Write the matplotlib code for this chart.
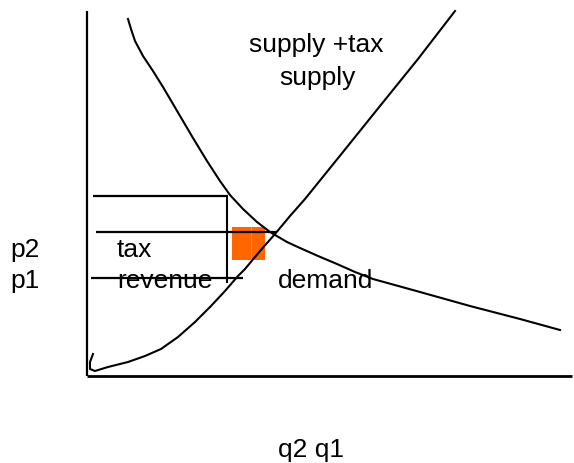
import matplotlib
matplotlib.use("Agg")
import matplotlib.pyplot as plt
from matplotlib.patches import Rectangle

plt.rcParams['font.family'] = ['Liberation Sans', 'DejaVu Sans']

# Data (pixel-like diagram coordinates, y downward)
demand_x = [128, 131, 135, 143, 153, 163, 173, 183, 193, 207, 220, 230, 243, 257, 270, 287, 300,
            318, 337, 355, 373, 420, 470, 520, 560]
demand_y = [20, 30, 42, 57, 72, 88, 105, 122, 139, 162, 182, 196, 210, 223, 233, 243, 249,
            257, 265, 273, 280, 293, 307, 320, 331]

supply_x = [93, 90, 90, 95, 108, 128, 145, 161, 178, 195, 211, 225, 238, 245, 260, 275,
            290, 305, 343, 380, 418, 455]
supply_y = [355, 363, 370, 372, 368, 363, 357, 350, 338, 323, 307, 292, 277, 270, 252, 235,
            217, 200, 153, 107, 60, 12]

# horizontal price lines: (y, x_start, x_end)
hlines_y = [197, 233, 279]
hlines_x0 = [93, 96, 91]
hlines_x1 = [228, 277, 243]

# vertical quantity line
vline_x = 227
vline_y = (197, 283)

# tax-revenue rectangle
rect_x = (232, 265)
rect_y = (228, 261)

labels = ["supply +tax", "supply", "tax", "revenue", "demand", "p2", "p1", "q2 q1"]

fig = plt.figure(figsize=(5.74, 4.64), dpi=100)
ax = fig.add_axes([0, 0, 1, 1])
ax.set_xlim(0, 574)
ax.set_ylim(464, 0)
ax.axis('off')

# axes of the diagram
ax.plot([87, 87], [12, 377], color='black', lw=1.6, solid_capstyle='butt')
ax.plot([87, 572], [377, 377], color='black', lw=2.0, solid_capstyle='butt')

# orange rectangle
ax.add_patch(Rectangle((rect_x[0], rect_y[0]), rect_x[1] - rect_x[0], rect_y[1] - rect_y[0],
                       facecolor='#FF6600', edgecolor='none', zorder=1))
ax.plot([251, 251], [rect_y[0], rect_y[1]], color='#FF9955', lw=0.6, zorder=1.5)

# curves
ax.plot(demand_x, demand_y, color='black', lw=1.5, zorder=3, solid_joinstyle='round')
ax.plot(supply_x, supply_y, color='black', lw=1.5, zorder=3, solid_joinstyle='round')

# price lines
for y, x0, x1 in zip(hlines_y, hlines_x0, hlines_x1):
    ax.plot([x0, x1], [y, y], color='black', lw=1.6, zorder=3, solid_capstyle='butt')
ax.plot([vline_x, vline_x], list(vline_y), color='black', lw=1.5, zorder=3)

fs = 19
ax.text(316, 52, labels[0], fontsize=fs, ha='center', va='baseline')
ax.text(317, 85, labels[1], fontsize=fs, ha='center', va='baseline')
ax.text(117, 257, labels[2], fontsize=fs, ha='left', va='baseline')
ax.text(117, 288, labels[3], fontsize=fs, ha='left', va='baseline', zorder=2)
ax.text(278, 288, labels[4], fontsize=fs, ha='left', va='baseline', zorder=2)
ax.text(10, 257, labels[5], fontsize=fs, ha='left', va='baseline')
ax.text(10, 288, labels[6], fontsize=fs, ha='left', va='baseline')
ax.text(311, 457, labels[7], fontsize=fs, ha='center', va='baseline')

fig.savefig('out.png', dpi=100)
